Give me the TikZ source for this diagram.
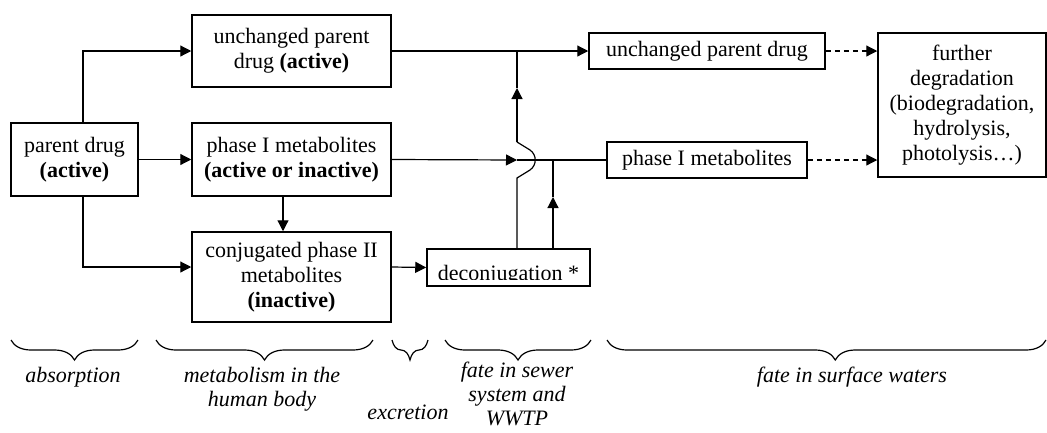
\documentclass[tikz,border=0pt]{standalone}
\usepackage{fontspec}
\setmainfont{Liberation Serif}
\usetikzlibrary{arrows.meta,decorations.pathreplacing}
\tikzset{
	box/.style={draw, line width=1.5pt, inner sep=0pt, align=center, font=\fontsize{22pt}{25pt}\selectfont},
	con/.style={line width=1.2pt},
	arr/.style={line width=1.2pt, -{Triangle[length=11pt,width=11pt]}},
	brc/.style={line width=1.2pt, decorate, decoration={brace, mirror, amplitude=20pt}},
	lbl/.style={align=center, inner sep=1pt, font=\fontsize{22pt}{24pt}\selectfont\itshape},
}
\begin{document}
\begin{tikzpicture}[x=1pt,y=-1pt]
	\useasboundingbox (0,0) rectangle (1047,432);
	\node[box, minimum width=127pt, minimum height=73pt] (parent) at (74.5,159.5) {parent drug\\\textbf{(active)}};
	\node[box, minimum width=199pt, minimum height=72pt] (unchA) at (291.5,51) {unchanged parent\\drug \textbf{(active)}};
	\node[box, minimum width=199pt, minimum height=73pt] (phaseA) at (291.5,159.5) {phase I metabolites\\\textbf{(active or inactive)}};
	\node[box, minimum width=199pt, minimum height=90pt] (conj) at (291.5,277) {conjugated phase II\\metabolites\\\textbf{(inactive)}};
	\node[box, minimum width=163pt, minimum height=37pt] (decon) at (508.5,267.5) {};
	\begin{scope}
		\clip (decon.north west) rectangle ([yshift=7pt]decon.south east);
		\node[anchor=base, font=\fontsize{22pt}{25pt}\selectfont] (dtext) at (508.5,280) {deconjugation *};
	\end{scope}
	\node[box, minimum width=236pt, minimum height=36pt] (unch) at (707,51) {unchanged parent drug};
	\node[box, minimum width=200pt, minimum height=36pt] (phase) at (707,160) {phase I metabolites};
	\node[box, minimum width=168pt, minimum height=144pt] (further) at (962,105) {further\\degradation\\(biodegradation,\\hydrolysis,\\photolysis\ldots)};

	\draw[arr] ([xshift=8.5pt]parent.north) |- (unchA.west);
	\draw[arr] (parent.east) -- (phaseA.west);
	\draw[arr] ([xshift=8.5pt]parent.south) |- ([yshift=10pt]conj.west);
	\draw[arr] ([xshift=-8.5pt]phaseA.south) -- ([xshift=-8.5pt]conj.north);
	\draw[arr] ([yshift=10pt]conj.east) -- (decon.west);
	\draw[arr] (unchA.east) -- (unch.west);
	\coordinate (hop) at (517,160);
	\coordinate (merge) at (553,160);
	\draw[arr] (phaseA.east) -- (hop);
	\draw[con] (hop) -- (phase.west);
	\draw[con] (decon.north -| hop) -- ([yshift=-18pt]hop) -- ([xshift=13pt,yshift=-10pt]hop) .. controls ([xshift=20pt,yshift=-5pt]hop) and ([xshift=20pt,yshift=5pt]hop) .. ([xshift=13pt,yshift=10pt]hop) -- ([yshift=18pt]hop);
	\draw[arr] ([yshift=18pt]hop) -- ([yshift=72pt]hop);
	\draw[con] ([yshift=72pt]hop) -- (hop |- unchA.east);
	\draw[arr] (decon.north -| merge) -- ([yshift=-37pt]merge);
	\draw[con] ([yshift=-37pt]merge) -- (merge);
	\draw[arr, dash pattern=on 5pt off 4pt] (unch.east) -- (unch.east -| further.west);
	\draw[arr, dash pattern=on 5pt off 4pt] (phase.east) -- (phase.east -| further.west);

	\draw[brc] (11,340) -- (138,340);
	\draw[brc] (156,340) -- (373,340);
	\draw[brc] (392,340) -- (428,340);
	\draw[brc] (445,340) -- (591,340);
	\draw[brc, decoration={aspect=0.52}] (607,340) -- (1046,340);
	\node[lbl] (absorb) at (73,377) {absorption};
	\node[lbl] (metab) at (262,389) {metabolism in the\\human body};
	\node[lbl] (excr) at (408,412) {excretion};
	\node[lbl] (sewer) at (517,394) {fate in sewer\\system and\\WWTP};
	\node[lbl] (surf) at (852,377) {fate in surface waters};
\end{tikzpicture}
\end{document}
